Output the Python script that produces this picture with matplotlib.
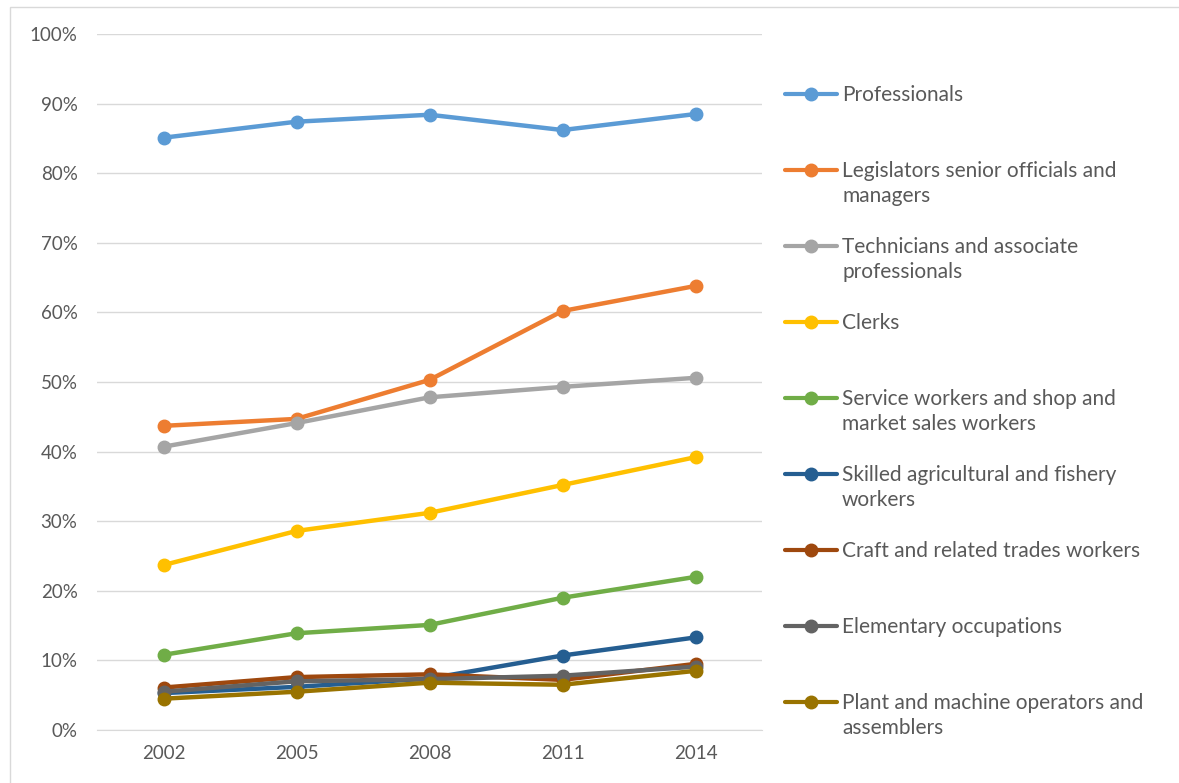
import matplotlib.pyplot as plt
from matplotlib.lines import Line2D
from matplotlib.patches import Rectangle
from matplotlib.ticker import PercentFormatter

years = ['2002', '2005', '2008', '2011', '2014']

professionals = [85.1, 87.4, 88.4, 86.2, 88.5]
legislators = [43.7, 44.7, 50.3, 60.2, 63.8]
technicians = [40.7, 44.1, 47.8, 49.3, 50.6]
clerks = [23.7, 28.6, 31.2, 35.2, 39.2]
service = [10.8, 13.9, 15.1, 19.0, 22.0]
agricultural = [5.3, 6.2, 7.4, 10.7, 13.3]
craft = [6.1, 7.6, 8.0, 7.2, 9.5]
elementary = [5.5, 7.0, 7.3, 7.8, 9.1]
plant = [4.5, 5.5, 6.8, 6.5, 8.5]

labels = [
    'Professionals',
    'Legislators senior officials and\nmanagers',
    'Technicians and associate\nprofessionals',
    'Clerks',
    'Service workers and shop and\nmarket sales workers',
    'Skilled agricultural and fishery\nworkers',
    'Craft and related trades workers',
    'Elementary occupations',
    'Plant and machine operators and\nassemblers',
]
series = [professionals, legislators, technicians, clerks, service,
          agricultural, craft, elementary, plant]
colors = ['#5B9BD5', '#ED7D31', '#A5A5A5', '#FFC000', '#70AD47',
          '#255E91', '#9E480E', '#636363', '#997300']

plt.rcParams['font.family'] = ['Lato', 'DejaVu Sans']
text_color = '#595959'

fig = plt.figure(figsize=(11.79, 7.83), dpi=100)
ax = fig.add_axes([97 / 1179, 1 - 730 / 783, (762 - 97) / 1179, (730 - 34) / 783])

x = range(len(years))
for vals, col in zip(series, colors):
    ax.plot(x, vals, color=col, lw=3.2, marker='o', markersize=9,
            solid_capstyle='round')

ax.set_xlim(-0.5, len(years) - 0.5)
ax.set_ylim(0, 100)
ax.set_yticks(range(0, 101, 10))
ax.yaxis.set_major_formatter(PercentFormatter(decimals=0))
ax.set_xticks(list(x))
ax.set_xticklabels(years)
ax.grid(axis='y', color='#d9d9d9', lw=1)
ax.set_axisbelow(True)
for side in ['top', 'right', 'left']:
    ax.spines[side].set_visible(False)
ax.spines['bottom'].set_color('#d9d9d9')
ax.tick_params(length=0, labelsize=13.5, colors=text_color)
ax.tick_params(axis='y', pad=14)
ax.tick_params(axis='x', pad=11)

# legend drawn by hand so the marker sits on the first text line
for i, (lab, col) in enumerate(zip(labels, colors)):
    y = 1 - (94 + 76 * i) / 783
    fig.add_artist(Line2D([785 / 1179, 837 / 1179], [y, y], transform=fig.transFigure,
                          color=col, lw=3, solid_capstyle='round'))
    fig.add_artist(Line2D([811 / 1179], [y], transform=fig.transFigure,
                          color=col, marker='o', markersize=9, lw=0))
    fig.text(842 / 1179, y + 9 / 783, lab, fontsize=15, color=text_color,
             va='top', ha='left', linespacing=1.3)

fig.add_artist(Rectangle((10 / 1179, -0.01), 1.1, 1.0 - 7 / 783 + 0.01,
                         transform=fig.transFigure, fill=False,
                         edgecolor='#d9d9d9', lw=1))

fig.savefig('out.png', dpi=100)
